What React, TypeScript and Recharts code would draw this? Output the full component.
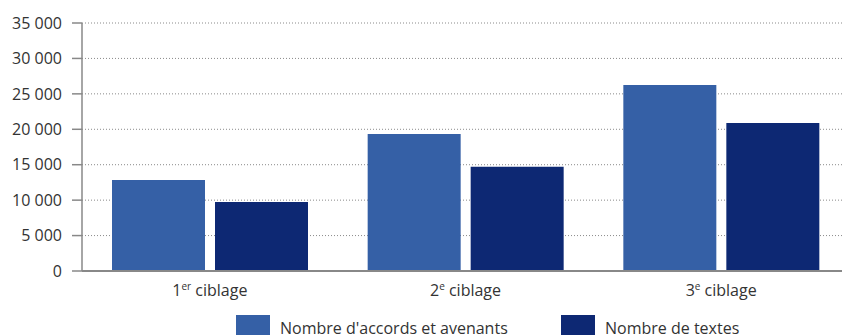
import React from "react";
import { BarChart, Bar, XAxis, YAxis, CartesianGrid } from "recharts";

const categories = ["1|er| ciblage", "2|e| ciblage", "3|e| ciblage"];
const accords = [12850, 19350, 26250];
const textes = [9750, 14700, 20900];
const seriesNames = ["Nombre d'accords et avenants", "Nombre de textes"];
const seriesColors = ["#3560A6", "#0D2873"];
const yTicks = [0, 5000, 10000, 15000, 20000, 25000, 30000, 35000];

const data = categories.map((c, i) => ({ cat: c, a: accords[i], t: textes[i] }));

const FONT = "'Open Sans', sans-serif";
const TXT = "#333333";

const fmt = (v: number) => String(v).replace(/\B(?=(\d{3})+(?!\d))/g, " ");

const XTick = (props: any) => {
  const { x, y, payload } = props;
  const [n, sup, rest] = String(payload.value).split("|");
  return (
    <text x={x} y={y + 17} textAnchor="middle" fontFamily={FONT} fontSize={16} fill={TXT}>
      <tspan>{n}</tspan>
      <tspan fontSize={10} dy={-6}>{sup}</tspan>
      <tspan dy={6}>{rest}</tspan>
    </text>
  );
};

const legendX = [236, 561];

export default function App() {
  return (
    <div style={{ position: "absolute", left: 0, top: 0, width: 842, height: 335, overflow: "hidden", background: "#fff" }}>
      <BarChart
        width={849}
        height={345}
        data={data}
        margin={{ top: 23, right: 0, bottom: 44, left: 0 }}
        barGap={10}
        barSize={93}
      >
        <CartesianGrid vertical={false} stroke="#8a8a8a" strokeDasharray="1 2" />
        <XAxis
          dataKey="cat"
          height={30}
          tickLine={false}
          axisLine={{ stroke: "#888888", strokeWidth: 2 }}
          tick={<XTick />}
          interval={0}
        />
        <YAxis
          width={82}
          domain={[0, 35000]}
          ticks={yTicks}
          interval={0}
          tickFormatter={fmt}
          tickSize={10}
          tickMargin={10}
          tickLine={{ stroke: "#888888", strokeWidth: 1.5 }}
          axisLine={{ stroke: "#888888", strokeWidth: 1.5 }}
          tick={{ fontFamily: FONT, fontSize: 16, fill: TXT }}
        />
        <Bar dataKey="a" name={seriesNames[0]} fill={seriesColors[0]} isAnimationActive={false} />
        <Bar dataKey="t" name={seriesNames[1]} fill={seriesColors[1]} isAnimationActive={false} />
      </BarChart>
      <svg width={842} height={335} style={{ position: "absolute", left: 0, top: 0, pointerEvents: "none" }}>
        {seriesNames.map((name, i) => (
          <g key={name}>
            <rect x={legendX[i]} y={315} width={34} height={22} fill={seriesColors[i]} />
            <text x={legendX[i] + 44} y={334} fontFamily={FONT} fontSize={16} fill={TXT}>
              {name}
            </text>
          </g>
        ))}
      </svg>
    </div>
  );
}
